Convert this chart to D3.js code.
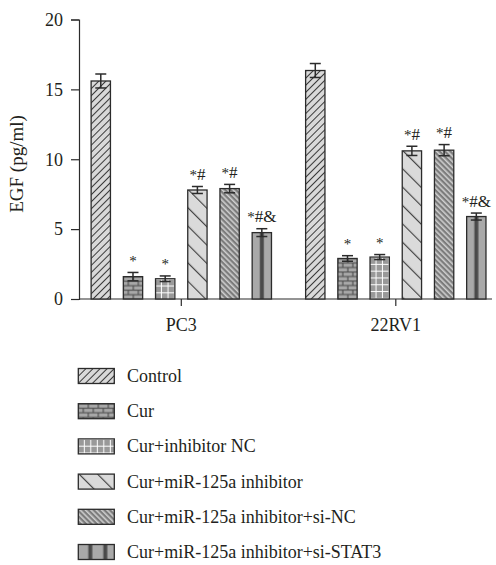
<!DOCTYPE html>
<html>
<head>
<meta charset="utf-8">
<script src="https://cdn.jsdelivr.net/npm/d3@7/dist/d3.min.js"></script>
<style>
  html, body { margin: 0; padding: 0; background: #fff; }
  svg { display: block; }
  text { font-family: "Liberation Serif", "DejaVu Serif", serif; fill: #231f20; }
</style>
</head>
<body>
<svg id="chart" width="496" height="565"></svg>
<script>
// Cell lines on the x axis and treatment groups within each cell line
const groups = ["PC3", "22RV1"];
const series = [
  "Control",
  "Cur",
  "Cur+inhibitor NC",
  "Cur+miR-125a inhibitor",
  "Cur+miR-125a inhibitor+si-NC",
  "Cur+miR-125a inhibitor+si-STAT3"
];
// EGF concentration (pg/ml): mean and error per treatment
const pc3Values = [15.6, 1.6, 1.45, 7.8, 7.9, 4.75];
const pc3Errors = [0.5, 0.3, 0.2, 0.25, 0.3, 0.28];
const rv1Values = [16.35, 2.9, 3.0, 10.6, 10.65, 5.9];
const rv1Errors = [0.5, 0.2, 0.18, 0.33, 0.4, 0.25];
// Significance marks per treatment
const marks = ["", "*", "*", "*#", "*#", "*#&"];
const yTicks = [0, 5, 10, 15, 20];
const yLabel = "EGF (pg/ml)";

const valuesByGroup = { "PC3": pc3Values, "22RV1": rv1Values };
const errorsByGroup = { "PC3": pc3Errors, "22RV1": rv1Errors };

const svg = d3.select("#chart");
const defs = svg.append("defs");

const axisLeft = 79, axisRight = 492, axisBottom = 299, axisTop = 19.5;

const y = d3.scaleLinear().domain([0, 20]).range([axisBottom, axisTop]);
const x0 = d3.scaleBand().domain(groups).range([74.05, 503.05]).padding(0);
const x1 = d3.scaleBand().domain(series).range([0, x0.bandwidth()])
  .paddingInner(0.4).paddingOuter(0.53);

const ink = "#2b2b2b";

// Fill patterns, one per treatment; each instance is anchored at (ox, oy)
let patternCount = 0;
function makePattern(seriesIndex, ox, oy) {
  const id = "pat" + (patternCount++);
  let p;
  switch (seriesIndex) {
    case 0: { // light gray with "/" hatching
      p = defs.append("pattern").attr("id", id).attr("patternUnits", "userSpaceOnUse")
        .attr("width", 5).attr("height", 5)
        .attr("patternTransform", `translate(${ox},${oy}) rotate(45)`);
      p.append("rect").attr("width", 5).attr("height", 5).attr("fill", "#d9d9d9");
      p.append("line").attr("x1", 0.5).attr("x2", 0.5).attr("y1", 0).attr("y2", 5)
        .attr("stroke", "#3a3a3a").attr("stroke-width", 1);
      break;
    }
    case 1: { // brick wall
      p = defs.append("pattern").attr("id", id).attr("patternUnits", "userSpaceOnUse")
        .attr("width", 10).attr("height", 9)
        .attr("patternTransform", `translate(${ox},${oy})`);
      p.append("rect").attr("width", 10).attr("height", 9).attr("fill", "#505050");
      p.append("rect").attr("x", 0.6).attr("y", 0.6).attr("width", 8.8).attr("height", 3.4).attr("fill", "#a8a8a8");
      p.append("rect").attr("x", -4.4).attr("y", 5.1).attr("width", 8.8).attr("height", 3.4).attr("fill", "#a8a8a8");
      p.append("rect").attr("x", 5.6).attr("y", 5.1).attr("width", 8.8).attr("height", 3.4).attr("fill", "#a8a8a8");
      break;
    }
    case 2: { // gray with white grid
      p = defs.append("pattern").attr("id", id).attr("patternUnits", "userSpaceOnUse")
        .attr("width", 6.5).attr("height", 6.8)
        .attr("patternTransform", `translate(${ox},${oy})`);
      p.append("rect").attr("width", 6.5).attr("height", 6.8).attr("fill", "#999999");
      p.append("line").attr("x1", 6.5).attr("x2", 6.5).attr("y1", 0).attr("y2", 6.8)
        .attr("stroke", "#ffffff").attr("stroke-width", 2);
      p.append("line").attr("x1", 0).attr("x2", 6.5).attr("y1", 0).attr("y2", 0)
        .attr("stroke", "#ffffff").attr("stroke-width", 2);
      break;
    }
    case 3: { // light gray with sparse "\" hatching
      p = defs.append("pattern").attr("id", id).attr("patternUnits", "userSpaceOnUse")
        .attr("width", 13).attr("height", 13)
        .attr("patternTransform", `translate(${ox},${oy}) rotate(-45)`);
      p.append("rect").attr("width", 13).attr("height", 13).attr("fill", "#dadada");
      p.append("line").attr("x1", 0.6).attr("x2", 0.6).attr("y1", 0).attr("y2", 13)
        .attr("stroke", "#3a3a3a").attr("stroke-width", 1.1);
      break;
    }
    case 4: { // medium gray with dense white "\" hatching
      p = defs.append("pattern").attr("id", id).attr("patternUnits", "userSpaceOnUse")
        .attr("width", 3.8).attr("height", 3.8)
        .attr("patternTransform", `translate(${ox},${oy}) rotate(-45)`);
      p.append("rect").attr("width", 3.8).attr("height", 3.8).attr("fill", "#7c7c7c");
      p.append("line").attr("x1", 0.8).attr("x2", 0.8).attr("y1", 0).attr("y2", 3.8)
        .attr("stroke", "#d8d8d8").attr("stroke-width", 1.4);
      break;
    }
    default: { // gray with dark vertical stripes
      p = defs.append("pattern").attr("id", id).attr("patternUnits", "userSpaceOnUse")
        .attr("width", 15).attr("height", 10)
        .attr("patternTransform", `translate(${ox},${oy})`);
      p.append("rect").attr("width", 15).attr("height", 10).attr("fill", "#a9a9a9");
      p.append("rect").attr("x", 7.7).attr("width", 4).attr("height", 10).attr("fill", "#4a4a4a");
    }
  }
  return `url(#${id})`;
}

// Y axis
const yAxisG = svg.append("g").attr("transform", `translate(${axisLeft},0)`)
  .call(d3.axisLeft(y).tickValues(yTicks).tickSize(8).tickPadding(8));
yAxisG.select(".domain").attr("stroke", ink).attr("stroke-width", 1.2);
yAxisG.selectAll(".tick line").attr("stroke", ink).attr("stroke-width", 1.2);
yAxisG.selectAll(".tick text").attr("font-size", 18).attr("fill", "#231f20")
  .style("font-family", '"Liberation Serif", serif');

svg.append("text")
  .attr("transform", `translate(23,164) rotate(-90)`)
  .attr("text-anchor", "middle")
  .attr("font-size", 19)
  .text(yLabel);

// X axis
const xAxisG = svg.append("g").attr("transform", `translate(0,${axisBottom})`)
  .call(d3.axisBottom(x0).tickSize(7).tickPadding(12));
xAxisG.select(".domain").remove();
xAxisG.append("line").attr("x1", axisLeft).attr("x2", axisRight)
  .attr("stroke", ink).attr("stroke-width", 1.2);
xAxisG.selectAll(".tick line").attr("stroke", ink).attr("stroke-width", 1.2);
xAxisG.selectAll(".tick text").attr("font-size", 18).attr("fill", "#231f20")
  .style("font-family", '"Liberation Serif", serif');

// Bars, error bars and significance marks
const rows = [];
groups.forEach(g => series.forEach((s, i) => rows.push({
  group: g, series: s, index: i,
  value: valuesByGroup[g][i], error: errorsByGroup[g][i], mark: marks[i]
})));

const barG = svg.append("g");
rows.forEach(d => {
  const bx = x0(d.group) + x1(d.series);
  const bw = x1.bandwidth();
  const top = y(d.value);
  barG.append("rect")
    .attr("x", bx).attr("y", top)
    .attr("width", bw).attr("height", y(0) - top)
    .attr("fill", makePattern(d.index, bx, top))
    .attr("stroke", ink).attr("stroke-width", 1.3);

  const cx = bx + bw / 2;
  const hi = y(d.value + d.error), lo = y(d.value - d.error);
  const cap = 5.5;
  barG.append("line").attr("x1", cx).attr("x2", cx).attr("y1", hi).attr("y2", lo)
    .attr("stroke", ink).attr("stroke-width", 1.5);
  barG.append("line").attr("x1", cx - cap).attr("x2", cx + cap).attr("y1", hi).attr("y2", hi)
    .attr("stroke", ink).attr("stroke-width", 1.5);
  barG.append("line").attr("x1", cx - cap).attr("x2", cx + cap).attr("y1", lo).attr("y2", lo)
    .attr("stroke", ink).attr("stroke-width", 1.5);

  if (d.mark) {
    const t = barG.append("text")
      .attr("x", cx).attr("y", hi - 6.5)
      .attr("text-anchor", "middle")
      .attr("font-size", 17);
    t.append("tspan").attr("font-size", 15).text("*");
    t.append("tspan").text(d.mark.slice(1));
  }
});

// Legend
const legend = svg.append("g");
const swX = 78.3, swW = 36, swH = 15, rowTop = 368.5, rowStep = 35.2;
series.forEach((s, i) => {
  const ty = rowTop + i * rowStep;
  legend.append("rect")
    .attr("x", swX).attr("y", ty).attr("width", swW).attr("height", swH)
    .attr("fill", makePattern(i, i === 5 ? swX + 2.3 : swX, ty))
    .attr("stroke", ink).attr("stroke-width", 1.3);
  legend.append("text")
    .attr("x", 127).attr("y", ty + swH / 2 + 6)
    .attr("font-size", 18)
    .text(s);
});
</script>
</body>
</html>
